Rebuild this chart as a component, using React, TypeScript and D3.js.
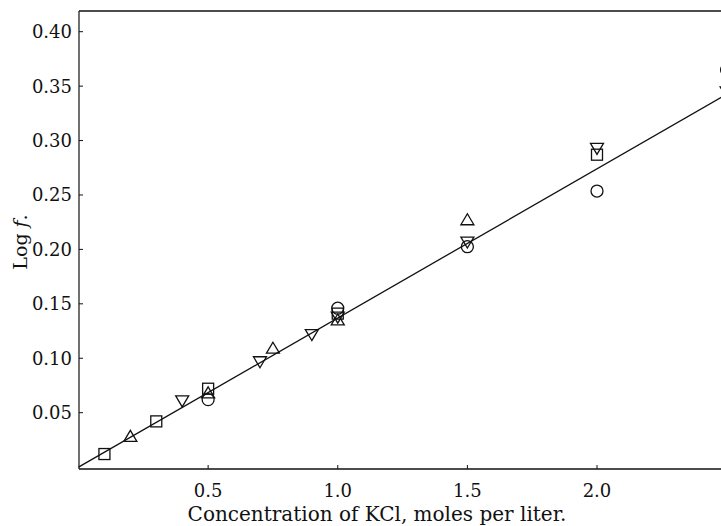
import React from 'react';
import * as d3 from 'd3';

// values: concentration (mol/l) vs log f
const circleX = [0.5, 1.0, 1.5, 2.0, 2.5];
const circleY = [0.062, 0.146, 0.2025, 0.2536, 0.365];

const squareX = [0.1, 0.3, 0.5, 1.0, 2.0];
const squareY = [0.012, 0.042, 0.072, 0.141, 0.287];

const upTriX = [0.2, 0.5, 0.75, 1.0, 1.5];
const upTriY = [0.027, 0.067, 0.108, 0.134, 0.226];

const downTriX = [0.4, 0.7, 0.9, 1.0, 1.5, 2.0, 2.5];
const downTriY = [0.062, 0.098, 0.123, 0.139, 0.208, 0.294, 0.346];

// fitted straight line through the origin
const lineX = [0, 2.5];
const lineY = [0, 0.3425];

const xTicks = [0.5, 1.0, 1.5, 2.0];
const yTicks = [0.05, 0.1, 0.15, 0.2, 0.25, 0.3, 0.35, 0.4];

const width = 721;
const height = 526;
const left = 79;
const top = 11;
const bottom = 469;
const font = '"DejaVu Serif", serif';

const x = d3.scaleLinear().domain([0, 2.0]).range([78.5, 597]);
const y = d3.scaleLinear().domain([0, 0.4]).range([467.1, 31.7]);

const zip = (xs: number[], ys: number[]) => xs.map((v, i) => [v, ys[i]] as [number, number]);

const tri = (cx: number, cy: number, down: boolean) => {
  const s = 13;
  const h = 11;
  const d = down ? -1 : 1;
  // centroid at (cx, cy)
  return `M${cx},${cy - (2 * h / 3) * d}L${cx + s / 2},${cy + (h / 3) * d}L${cx - s / 2},${cy + (h / 3) * d}Z`;
};

const App: React.FC = () => {
  const line = d3.line<[number, number]>()
    .x(d => x(d[0]))
    .y(d => y(d[1]));

  const mark = { fill: 'none', stroke: '#111', strokeWidth: 1.3 };

  return (
    <svg
      width={width}
      height={height}
      style={{ position: 'fixed', left: 0, top: 0, background: '#fff' }}
    >
      {/* frame */}
      <line x1={left} y1={top} x2={width} y2={top} stroke="#111" strokeWidth={1.4} />
      <line x1={left} y1={top} x2={left} y2={bottom} stroke="#111" strokeWidth={1.2} />
      <line x1={left} y1={bottom} x2={width} y2={bottom} stroke="#111" strokeWidth={1.3} />

      {/* y ticks */}
      {yTicks.map(t => (
        <g key={t}>
          <line x1={left} x2={left + 4} y1={y(t)} y2={y(t)} stroke="#111" strokeWidth={1} />
          <text
            x={72}
            y={y(t)}
            dy="0.36em"
            textAnchor="end"
            fontFamily={font}
            fontSize={18}
            fill="#111"
          >
            {t.toFixed(2)}
          </text>
        </g>
      ))}

      {/* x ticks */}
      {xTicks.map(t => (
        <g key={t}>
          <line x1={x(t)} x2={x(t)} y1={bottom} y2={bottom - 4} stroke="#111" strokeWidth={1} />
          <text
            x={x(t)}
            y={497}
            textAnchor="middle"
            fontFamily={font}
            fontSize={18}
            fill="#111"
          >
            {t.toFixed(1)}
          </text>
        </g>
      ))}

      <text x={377} y={521} textAnchor="middle" fontFamily={font} fontSize={20} fill="#111">
        Concentration of KCl, moles per liter.
      </text>
      <text
        transform="translate(27,242) rotate(-90)"
        textAnchor="middle"
        fontFamily={font}
        fontSize={19}
        fill="#111"
      >
        Log <tspan fontStyle="italic">f</tspan>.
      </text>

      {/* fitted line */}
      <path d={line(zip(lineX, lineY)) ?? ''} fill="none" stroke="#111" strokeWidth={1.3} />

      {/* markers */}
      {zip(circleX, circleY).map((d, i) => (
        <circle key={'c' + i} cx={x(d[0])} cy={y(d[1])} r={6} {...mark} />
      ))}
      {zip(squareX, squareY).map((d, i) => (
        <rect key={'s' + i} x={x(d[0]) - 5.5} y={y(d[1]) - 5.5} width={11} height={11} {...mark} />
      ))}
      {zip(upTriX, upTriY).map((d, i) => (
        <path key={'u' + i} d={tri(x(d[0]), y(d[1]), false)} {...mark} />
      ))}
      {zip(downTriX, downTriY).map((d, i) => (
        <path key={'d' + i} d={tri(x(d[0]), y(d[1]), true)} {...mark} />
      ))}
    </svg>
  );
};

export default App;
